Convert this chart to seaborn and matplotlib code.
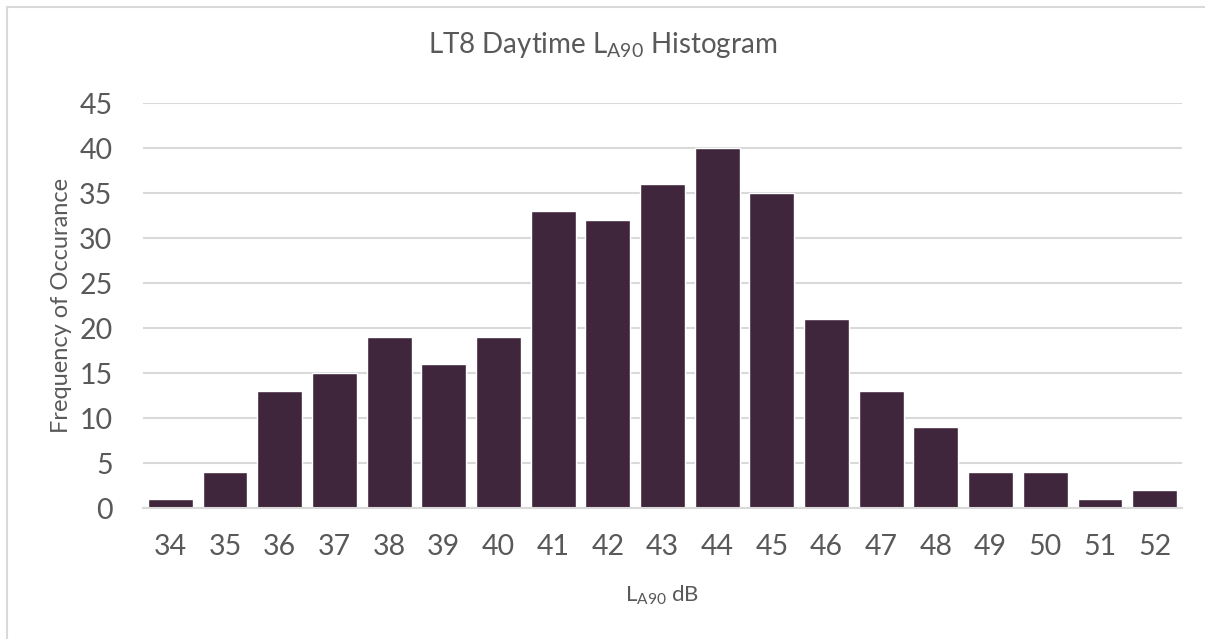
import matplotlib
matplotlib.use("Agg")
import matplotlib.pyplot as plt
import seaborn as sns
import pandas as pd
from matplotlib.patches import Rectangle

# values
levels = [34, 35, 36, 37, 38, 39, 40, 41, 42, 43, 44, 45, 46, 47, 48, 49, 50, 51, 52]
counts = [1, 4, 13, 15, 19, 16, 19, 33, 32, 36, 40, 35, 21, 13, 9, 4, 4, 1, 2]
y_ticks = [0, 5, 10, 15, 20, 25, 30, 35, 40, 45]

BAR = "#40263c"
TEXT = "#595959"
GRID = "#d9d9d9"

sns.set_style("white")
plt.rcParams['font.family'] = ['Lato', 'DejaVu Sans']
plt.rcParams['mathtext.default'] = 'regular'

df = pd.DataFrame({"level": [str(v) for v in levels], "count": counts})

fig = plt.figure(figsize=(12.05, 6.39), dpi=100)
ax = fig.add_axes([0.1187, 0.205, 0.8622, 0.6338])

sns.barplot(data=df, x="level", y="count", color=BAR, width=0.82,
            saturation=1, ax=ax, zorder=3)

ax.set_ylim(0, 45)
ax.set_xlim(-0.5, len(levels) - 0.5)
ax.set_yticks(y_ticks)
ax.yaxis.grid(True, color=GRID, linewidth=1.5, zorder=0)
ax.set_axisbelow(True)
for side in ["top", "right", "left"]:
    ax.spines[side].set_visible(False)
ax.spines["bottom"].set_color(GRID)
ax.spines["bottom"].set_linewidth(1.5)
ax.spines["bottom"].set_zorder(4)
ax.tick_params(axis="both", length=0, labelsize=20.5, colors=TEXT)
ax.tick_params(axis="x", pad=19)
ax.tick_params(axis="y", pad=22)

ax.set_xlabel(r"L$_{\mathregular{A90}}$ dB", fontsize=16, color=TEXT, labelpad=17)
ax.set_ylabel("Frequency of Occurance", fontsize=17, color=TEXT, labelpad=5)
fig.text(0.5, 0.93, r"LT8 Daytime L$_{\mathregular{A90}}$ Histogram",
         ha="center", va="center", fontsize=20, color=TEXT)

# light chart border like the spreadsheet chart frame
fig.patches.append(Rectangle((7 / 1205, -0.01), 1.02, 1 - 7 / 639 + 0.01,
                             transform=fig.transFigure, fill=False,
                             edgecolor=GRID, linewidth=1.5))

fig.savefig("out.png", dpi=100)
